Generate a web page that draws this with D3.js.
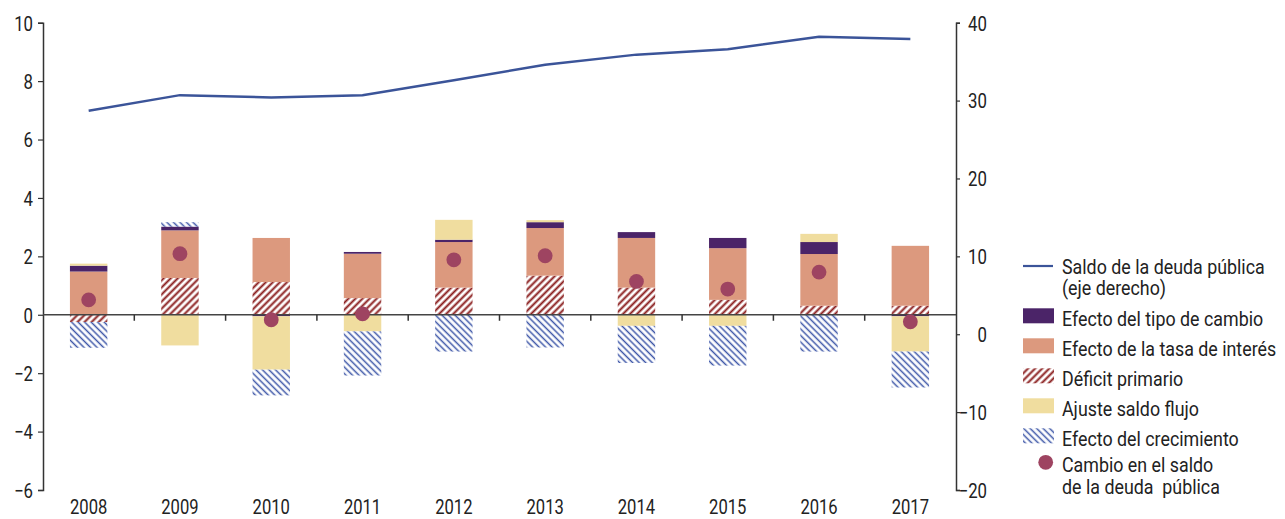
<!DOCTYPE html>
<html>
<head>
<meta charset="utf-8">
<script src="https://cdn.jsdelivr.net/npm/d3@7"></script>
<style>
  html, body { margin: 0; padding: 0; background: #fff; }
  svg text { font-family: "Roboto", "Liberation Sans", sans-serif; fill: #222; }
</style>
</head>
<body>
<svg id="chart" width="1285" height="519"></svg>
<script>
// Debt dynamics decomposition, % of GDP
const years = [2008, 2009, 2010, 2011, 2012, 2013, 2014, 2015, 2016, 2017];
const deficitPrimario = [-0.25, 1.26, 1.12, 0.57, 0.93, 1.34, 0.93, 0.51, 0.31, 0.31];
const tasaInteres     = [1.48, 1.63, 1.51, 1.52, 1.56, 1.63, 1.70, 1.77, 1.77, 2.05];
const tipoCambio      = [0.20, 0.13, -0.05, 0.06, 0.08, 0.20, 0.20, 0.35, 0.41, -0.05];
const ajusteFlujo     = [0.07, -1.05, -1.83, -0.57, 0.68, 0.07, -0.38, -0.38, 0.28, -1.21];
const crecimiento     = [-0.88, 0.15, -0.88, -1.51, -1.26, -1.12, -1.27, -1.36, -1.26, -1.23];
const cambioSaldo     = [0.51, 2.09, -0.17, 0.03, 1.88, 2.02, 1.14, 0.88, 1.46, -0.24];
const saldoDeuda      = [28.7, 30.7, 30.4, 30.7, 32.6, 34.6, 35.9, 36.6, 38.2, 37.9];

const leftTicks = [-6, -4, -2, 0, 2, 4, 6, 8, 10];
const rightTicks = [-20, -10, 0, 10, 20, 30, 40];

const seriesKeys = ["deficit", "interes", "cambio", "ajuste", "crecimiento"];
const seriesValues = {
  deficit: deficitPrimario,
  interes: tasaInteres,
  cambio: tipoCambio,
  ajuste: ajusteFlujo,
  crecimiento: crecimiento
};
const fills = {
  deficit: "url(#hatchRed)",
  interes: "#dc997e",
  cambio: "#4b2468",
  ajuste: "#f0dd9f",
  crecimiento: "url(#hatchBlue)"
};

const svg = d3.select("#chart");
const plotLeft = 43, plotRight = 956, plotTop = 22.7, plotBottom = 490;
const FS = "21px";

// narrow the lettering horizontally around each text's own anchor
function condense(sel, k) {
  sel.each(function () {
    const t = d3.select(this);
    const ax = +(t.attr("x") || 0);
    t.attr("transform", `translate(${ax},0) scale(${k},1) translate(${-ax},0)`);
  });
}

// hatch patterns
const defs = svg.append("defs");
function hatch(id, angle, size, color, sw) {
  const p = defs.append("pattern")
    .attr("id", id)
    .attr("patternUnits", "userSpaceOnUse")
    .attr("width", size).attr("height", size)
    .attr("patternTransform", `rotate(${angle})`);
  p.append("rect").attr("width", size).attr("height", size).attr("fill", "#fff");
  p.append("line").attr("x1", size / 2).attr("y1", 0).attr("x2", size / 2).attr("y2", size)
    .attr("stroke", color).attr("stroke-width", sw);
}
hatch("hatchRed", 45, 5, "#8a1c1c", 2);
hatch("hatchBlue", -45, 4.6, "#3d56a8", 1.5);

const x = d3.scaleBand().domain(years).range([plotLeft, plotRight]).padding(0);
const yL = d3.scaleLinear().domain([-6, 10]).range([plotBottom, plotTop]);
const yR = d3.scaleLinear().domain([-20, 40]).range([plotBottom, plotTop]);
const barW = x.bandwidth() * 0.41;

const rows = years.map((yr, i) => {
  const r = { year: yr };
  seriesKeys.forEach(k => r[k] = seriesValues[k][i]);
  return r;
});
const stack = d3.stack().keys(seriesKeys).order(d3.stackOrderNone).offset(d3.stackOffsetDiverging);
const stacked = stack(rows);

// bars
const gBars = svg.append("g");
stacked.forEach(s => {
  gBars.selectAll(null).data(s).enter().append("rect")
    .attr("x", d => x(d.data.year) + x.bandwidth() / 2 - barW / 2)
    .attr("width", barW)
    .attr("y", d => yL(Math.max(d[0], d[1])))
    .attr("height", d => Math.abs(yL(d[0]) - yL(d[1])))
    .attr("fill", fills[s.key]);
});

// left axis
const axL = svg.append("g").attr("transform", `translate(${plotLeft},0)`)
  .call(d3.axisLeft(yL).tickValues(leftTicks).tickSize(5).tickPadding(5).tickFormat(d3.format("d")));
axL.select(".domain").attr("stroke", "#333").attr("stroke-width", 1.5);
axL.selectAll(".tick line").attr("stroke", "#333").attr("stroke-width", 1.2);
axL.selectAll(".tick text").style("font-size", FS).attr("fill", "#222").attr("dy", "0.35em")
  .call(condense, 0.8);

// right axis
const axR = svg.append("g").attr("transform", `translate(${plotRight},0)`)
  .call(d3.axisRight(yR).tickValues(rightTicks).tickSize(4).tickFormat(d3.format("d")));
axR.select(".domain").attr("stroke", "#333").attr("stroke-width", 1.5);
axR.selectAll(".tick line").attr("stroke", "#333").attr("stroke-width", 1.2);
axR.selectAll(".tick text").style("font-size", FS).attr("fill", "#222").attr("dy", "0.35em")
  .attr("text-anchor", "end").attr("x", 31).call(condense, 0.8);

// zero line with category separator ticks
const zeroY = yL(0);
svg.append("line").attr("x1", plotLeft).attr("x2", plotRight).attr("y1", zeroY).attr("y2", zeroY)
  .attr("stroke", "#444").attr("stroke-width", 1.6);
svg.append("g").selectAll("line").data(years.slice(1)).enter().append("line")
  .attr("x1", d => x(d)).attr("x2", d => x(d))
  .attr("y1", zeroY).attr("y2", zeroY + 6)
  .attr("stroke", "#333").attr("stroke-width", 1.5);

// category labels
svg.append("g").selectAll("text").data(years).enter().append("text")
  .attr("x", d => x(d) + x.bandwidth() / 2)
  .attr("y", 514)
  .attr("text-anchor", "middle")
  .style("font-size", FS)
  .text(d => d)
  .call(condense, 0.79);

// debt stock line (right axis)
const line = d3.line()
  .x((d, i) => x(years[i]) + x.bandwidth() / 2)
  .y(d => yR(d));
svg.append("path").datum(saldoDeuda).attr("d", line)
  .attr("fill", "none").attr("stroke", "#3b5499").attr("stroke-width", 2.5);

// change in debt dots
svg.append("g").selectAll("circle").data(cambioSaldo).enter().append("circle")
  .attr("cx", (d, i) => x(years[i]) + x.bandwidth() / 2)
  .attr("cy", d => yL(d))
  .attr("r", 7.4)
  .attr("fill", "#9e4461");

// legend
const lg = svg.append("g");
const lx = 1023, tx = 1062;
function twoLine(y, first, second, gap) {
  const t = lg.append("text").attr("x", tx).attr("y", y).style("font-size", FS)
    .attr("xml:space", "preserve");
  t.append("tspan").attr("x", tx).text(first);
  t.append("tspan").attr("x", tx).attr("dy", gap).text(second);
}
lg.append("line").attr("x1", lx).attr("x2", lx + 30).attr("y1", 266).attr("y2", 266)
  .attr("stroke", "#3b5499").attr("stroke-width", 2.2);
twoLine(274, "Saldo de la deuda pública", "(eje derecho)", 21);

const legendItems = [
  { key: "cambio", label: "Efecto del tipo de cambio", y: 308.3 },
  { key: "interes", label: "Efecto de la tasa de interés", y: 338.3 },
  { key: "deficit", label: "Déficit primario", y: 368.3 },
  { key: "ajuste", label: "Ajuste saldo flujo", y: 398.3 },
  { key: "crecimiento", label: "Efecto del crecimiento", y: 428.3 }
];
legendItems.forEach(it => {
  lg.append("rect").attr("x", lx).attr("y", it.y).attr("width", 31).attr("height", 15)
    .attr("fill", fills[it.key]);
  lg.append("text").attr("x", tx).attr("y", it.y + 17.5).style("font-size", FS).text(it.label);
});
lg.append("circle").attr("cx", 1045.7).attr("cy", 462.3).attr("r", 7.4).attr("fill", "#9e4461");
twoLine(472.5, "Cambio en el saldo", "de la deuda  pública", 21.5);
lg.selectAll("text").call(condense, 0.85);
</script>
</body>
</html>
